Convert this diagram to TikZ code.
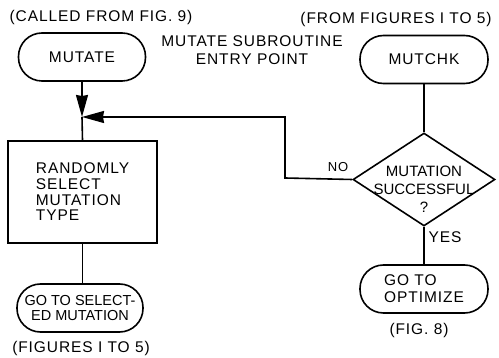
\documentclass[tikz,border=0pt]{standalone}
\usepackage{fontspec}
\setmainfont{Liberation Sans}[LetterSpace=6]
\usetikzlibrary{arrows.meta,shapes.geometric}
\begin{document}
\begin{tikzpicture}[x=1pt,y=-1pt,line width=1.6pt,
  font=\fontsize{15.5}{16}\selectfont,
  term/.style={draw,rectangle,rounded corners=23.5pt,minimum width=#1,minimum height=48pt,inner sep=0pt},
  procbox/.style={draw,rectangle,minimum width=149pt,minimum height=102pt,inner sep=0pt,align=left},
  decis/.style={draw,diamond,minimum width=142pt,minimum height=93pt,inner sep=0pt},
  txt/.style={inner sep=0pt,align=center},
  arr/.style={-{Stealth[length=22pt,width=12pt,inset=1pt]}}]
\useasboundingbox (0,0) rectangle (499,358);
\node[txt] (called) at (101,17.5) {(CALLED FROM FIG. 9)};
\node[txt] (fromfig) at (396,19) {(FROM FIGURES I TO 5)};
\node[txt,font=\fontsize{15.5}{17.5}\selectfont] (entry) at (252,50) {MUTATE SUBROUTINE\\ENTRY POINT};
\node[term=127pt] (mutate) at (82,57) {MUTATE};
\node[term=128pt] (mutchk) at (424,59.5) {MUTCHK};
\coordinate (junc) at (82,117);
\node[procbox,font=\fontsize{15.5}{15.7}\selectfont] (rand) at (82.5,192) {RANDOMLY\\SELECT\\MUTATION\\TYPE};
\node[term=126pt,align=center,font=\fontsize{14.5}{15}\selectfont\addfontfeature{LetterSpace=0}] (gosel) at (80,308) {GO TO SELECT-\\ED MUTATION};
\node[txt] (figs) at (81,348) {(FIGURES I TO 5)};
\node[decis] (dec) at (424,179.5) {};
\node[txt,font=\fontsize{15}{18}\selectfont\addfontfeature{LetterSpace=0}] (dectext) at (424,189) {MUTATION\\SUCCESSFUL\\?};
\node[term=128pt,align=left,font=\fontsize{15.5}{17}\selectfont] (opt) at (424,289) {GO TO\\OPTIMIZE};
\node[txt] (fig8) at (419,330) {(FIG. 8)};
\coordinate (nocorner) at (285,178);
\coordinate (notop) at (285,117);
\node[txt,font=\fontsize{13}{14}\selectfont] (nolab) at (338,167) {NO};
\node[txt] (yeslab) at (445,237) {YES};
\draw[arr] (mutate.south) -- (junc);
\draw (junc) -- (rand.north);
\draw (rand.south) -- (gosel.north -| rand.south);
\draw (mutchk.south) -- (dec.north);
\draw (dec.south) -- (opt.north);
\draw[arr] (dec.west) -- (nocorner) -- (notop) -- (junc);
\end{tikzpicture}
\end{document}
